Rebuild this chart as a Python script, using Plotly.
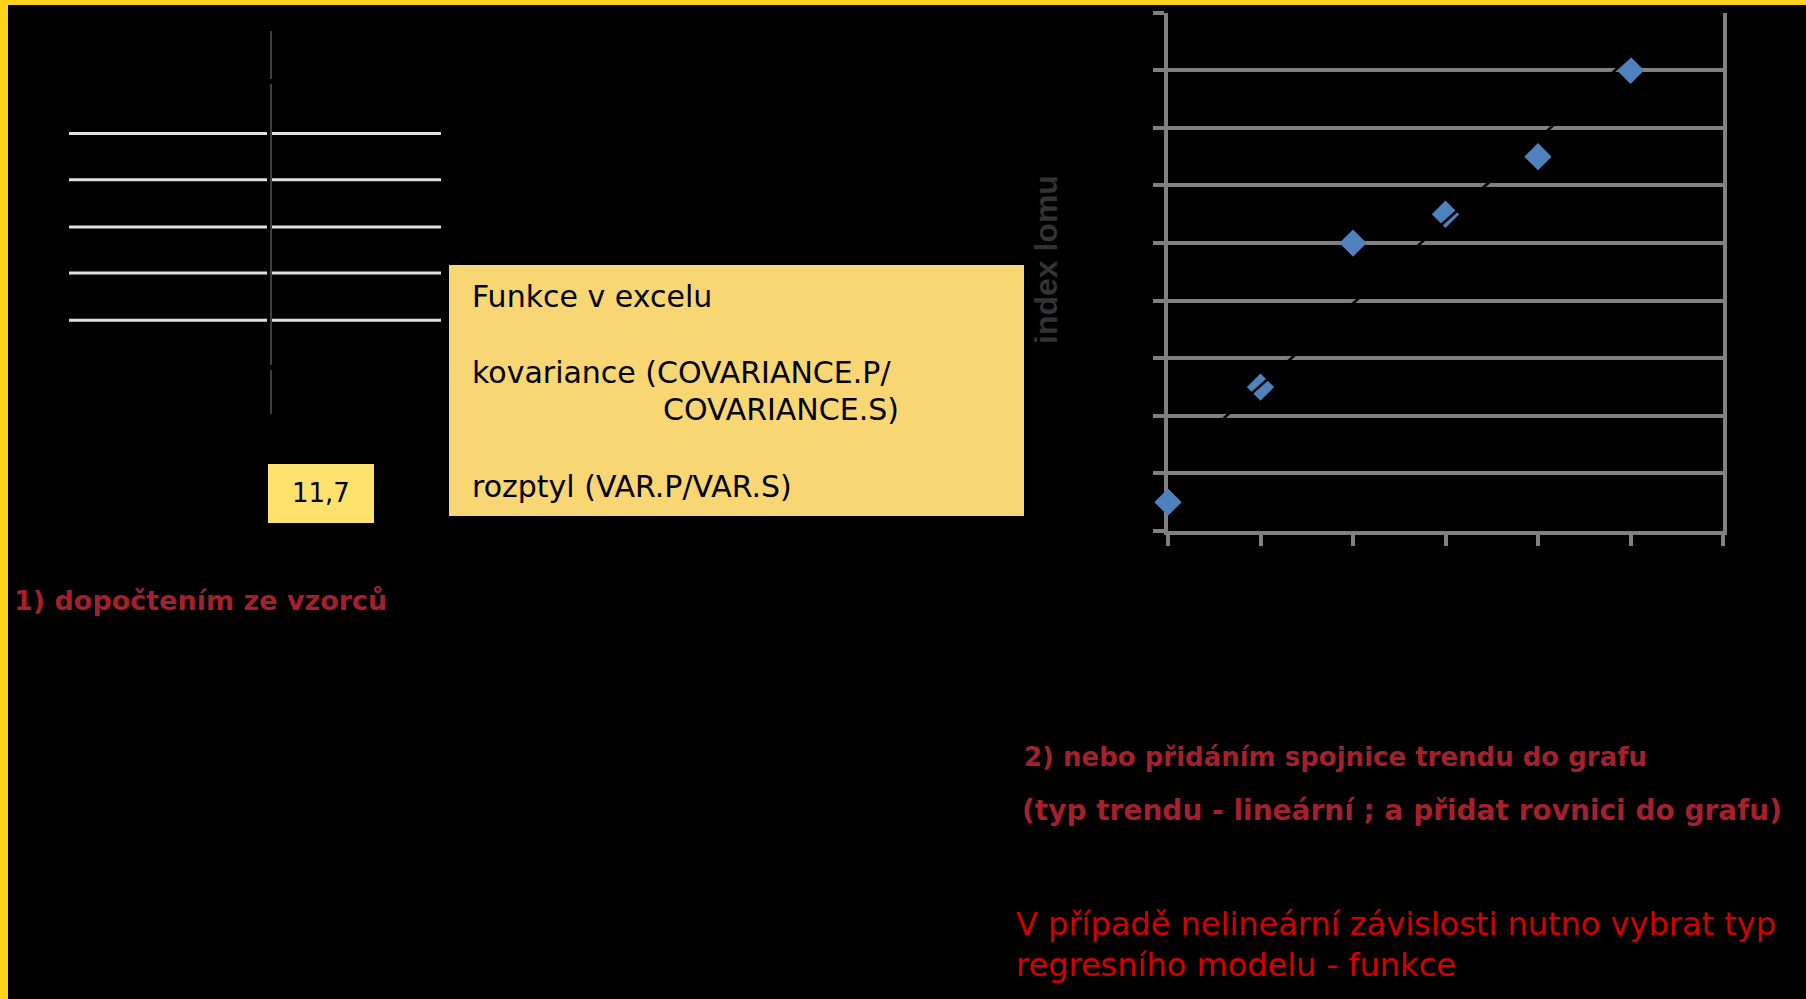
import numpy as np
import plotly.graph_objects as go

# ---- data ----
x_vals = [0, 1, 2, 3, 4, 5]
y_vals = [0.5, 2.5, 5, 5.5, 6.5, 8]
x_ticks = [0, 1, 2, 3, 4, 5, 6]
y_ticks = [0, 1, 2, 3, 4, 5, 6, 7, 8, 9]
axis_title = "index lomu"
box_value = "11,7"
box_lines = ["Funkce v excelu", "kovariance (COVARIANCE.P/", "COVARIANCE.S)", "rozptyl (VAR.P/VAR.S)"]
note1 = "1) dopočtením ze vzorců"
note2 = ["2) nebo přidáním spojnice trendu do grafu", "(typ trendu - lineární ; a přidat rovnici do grafu)"]
note3 = ["V případě nelineární závislosti nutno vybrat typ", "regresního modelu - funkce"]

W, H = 1806, 999
def px(x):
    return x / W
def py(y):
    return 1 - y / H

# linear trend (least squares) from data
slope, intercept = np.polyfit(x_vals, y_vals, 1)
tx = [min(x_vals), max(x_vals)]
ty = [slope * v + intercept for v in tx]

fig = go.Figure()
fig.add_trace(go.Scatter(x=x_vals, y=y_vals, mode="markers",
                         marker=dict(symbol="diamond", size=21, color="#4F81BD",
                                     line=dict(width=0)),
                         cliponaxis=False, showlegend=False, hoverinfo="x+y"))
fig.add_trace(go.Scatter(x=tx, y=ty, mode="lines", line=dict(color="black", width=2.5),
                         showlegend=False, hoverinfo="skip"))

grid = "#808080"
fig.update_layout(
    width=W, height=H, margin=dict(l=0, r=0, t=0, b=0),
    paper_bgcolor="black", plot_bgcolor="black",
    xaxis=dict(domain=[px(1168), px(1723)], range=[0, 6], tickvals=x_ticks,
               showgrid=False, zeroline=False, showline=True, linecolor=grid, linewidth=4,
               ticks="outside", ticklen=11, tickwidth=4, tickcolor=grid,
               showticklabels=False, layer="below traces"),
    yaxis=dict(domain=[py(531), py(12.7)], range=[0, 9], tickvals=y_ticks,
               showgrid=True, gridcolor=grid, gridwidth=4, zeroline=False,
               showline=True, linecolor=grid, linewidth=4, mirror=True,
               ticks="outside", ticklen=11, tickwidth=4, tickcolor=grid,
               showticklabels=False, layer="below traces"),
)

shapes = []
# yellow slide border (top and left)
shapes.append(dict(type="rect", xref="paper", yref="paper", x0=0, x1=1, y0=py(5), y1=1,
                   fillcolor="#FFD31C", line=dict(width=0)))
shapes.append(dict(type="rect", xref="paper", yref="paper", x0=0, x1=px(8), y0=0, y1=1,
                   fillcolor="#FFD31C", line=dict(width=0)))
# table lines on left
for yy in [133.6, 179.7, 226.9, 273, 320.2]:
    shapes.append(dict(type="line", xref="paper", yref="paper", x0=px(69), x1=px(267),
                       y0=py(yy), y1=py(yy), line=dict(color="#E0E0E0", width=3)))
    shapes.append(dict(type="line", xref="paper", yref="paper", x0=px(272), x1=px(441),
                       y0=py(yy), y1=py(yy), line=dict(color="#E0E0E0", width=3)))
for (a, b) in [(31, 79), (84, 365), (370, 414)]:
    shapes.append(dict(type="line", xref="paper", yref="paper", x0=px(271), x1=px(271),
                       y0=py(a), y1=py(b), line=dict(color="#555555", width=1.5)))
# value box
shapes.append(dict(type="rect", xref="paper", yref="paper", x0=px(268), x1=px(374),
                   y0=py(523), y1=py(464), fillcolor="#FFE26E", line=dict(width=0)))
# main yellow box
shapes.append(dict(type="rect", xref="paper", yref="paper", x0=px(449), x1=px(1024),
                   y0=py(516), y1=py(265), fillcolor="#F8D674", line=dict(width=0)))
fig.update_layout(shapes=shapes)

ann = []
def txt(x, y, s, size, color, bold=False, anchor="left", family="DejaVu Sans", angle=0):
    ann.append(dict(xref="paper", yref="paper", x=px(x), y=py(y), text=(f"<b>{s}</b>" if bold else s),
                    showarrow=False, xanchor=anchor, yanchor="middle", textangle=angle,
                    font=dict(family=family, size=size, color=color)))

txt(321, 493, box_value, 26, "black", anchor="center")
txt(470, 296, box_lines[0], 30, "black")
txt(470, 372, box_lines[1], 30, "black")
txt(661, 409, box_lines[2], 30, "black")
txt(470, 486, box_lines[3], 30, "black")
txt(12, 600, note1, 27, "#A3202D", bold=True)
txt(1022, 757, note2[0], 26, "#A3202D", bold=True)
txt(1020, 810, note2[1], 28, "#A3202D", bold=True)
txt(1014, 924, note3[0], 32, "#D40000")
txt(1014, 965, note3[1], 32, "#D40000")
txt(1046, 260, axis_title, 32, "#333333", bold=True, anchor="center", family="Liberation Sans", angle=-90)
fig.update_layout(annotations=ann)

fig.write_html("out.html", config={"displayModeBar": False},
               post_script="document.body.style.margin='0';document.body.style.overflow='hidden';")
